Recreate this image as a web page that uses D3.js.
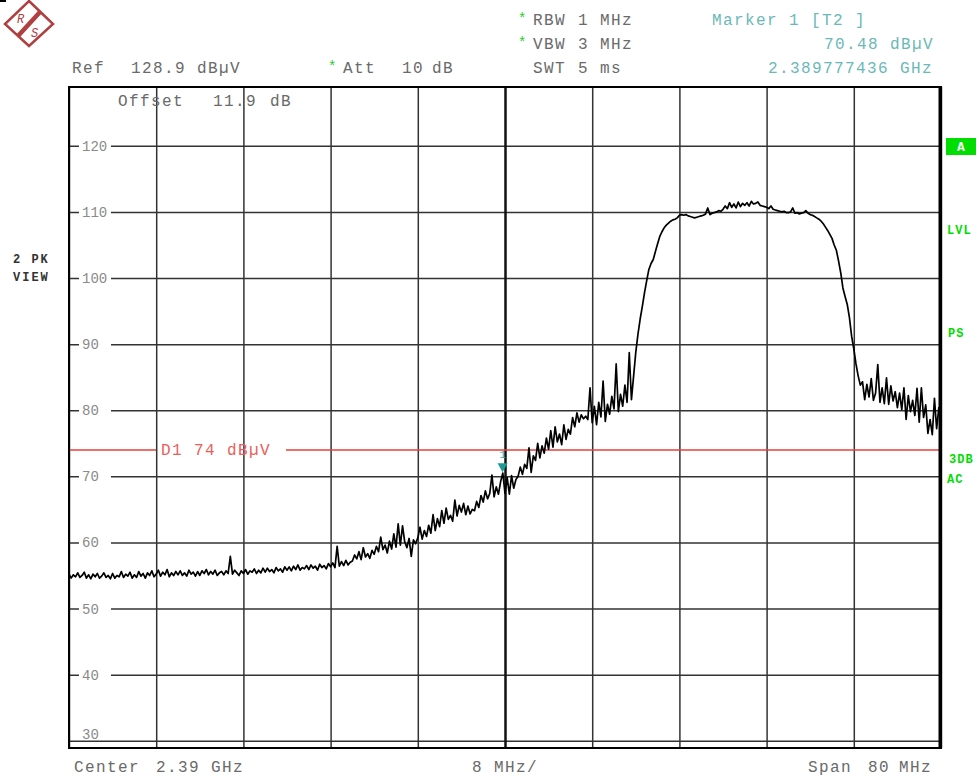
<!DOCTYPE html>
<html>
<head>
<meta charset="utf-8">
<script src="https://cdn.jsdelivr.net/npm/d3@7"></script>
<style>
  body { margin: 0; background: #fff; }
  text { font-family: "Liberation Mono", "DejaVu Sans Mono", monospace; }
</style>
</head>
<body>
<div id="main"></div>
<script>
const width = 979;
const height = 776;
const plot = { left: 69, right: 941, top: 87, bottom: 748 };

// analyzer settings
const refLevel = 128.9;
const bottomLevel = 28.9;
const startMHz = 2350;
const stopMHz = 2430;
const stepMHz = 0.2;
const gridMHz = [2350, 2358, 2366, 2374, 2382, 2390, 2398, 2406, 2414, 2422, 2430];
const levelTicks = [120, 110, 100, 90, 80, 70, 60, 50, 40, 30];
const displayLine = 74;
const markerMHz = 2389.777436;
const markerLevel = 70.48;

// trace 2 (peak), dBµV per sweep point
const levels = [
  55.2,54.6,55.1,54.8,55.4,54.7,55.0,55.5,54.6,55.1,
  54.5,55.2,54.8,55.3,54.6,54.9,55.4,54.7,55.0,54.5,
  55.3,54.6,55.0,54.8,55.6,54.7,55.2,54.9,55.5,54.6,
  55.1,54.7,55.6,54.9,55.3,54.6,55.4,55.0,55.7,54.8,
  55.2,55.8,54.9,55.5,55.1,55.9,54.8,55.4,55.0,55.6,
  55.1,55.7,55.0,55.4,54.9,55.8,55.2,55.5,54.9,55.6,
  55.0,55.7,55.3,55.9,55.1,55.6,55.2,55.8,55.0,55.4,
  55.6,55.1,55.7,55.3,57.9,55.2,55.8,55.4,55.0,55.7,
  55.3,55.9,55.2,55.7,55.5,56.0,55.3,55.8,55.4,56.1,
  55.5,56.1,55.6,55.9,55.4,56.2,55.7,56.0,55.5,56.3,
  55.8,56.3,55.7,56.4,55.9,56.6,55.8,56.2,56.0,56.5,
  55.9,56.6,56.1,56.4,55.8,56.7,56.2,56.5,56.0,56.8,
  56.3,56.9,56.2,59.4,56.4,57.1,56.5,57.3,56.6,57.0,
  57.2,58.1,57.5,58.6,57.4,59.2,57.8,58.3,57.6,58.8,
  58.2,59.4,58.6,60.8,58.9,59.6,58.4,60.2,59.0,61.3,
  59.3,62.8,59.6,62.5,60.1,59.2,60.6,57.9,60.4,59.8,
  60.7,62.3,60.5,61.8,60.9,62.6,61.4,64.2,61.8,63.6,
  62.4,64.8,62.9,65.2,63.5,64.1,63.2,66.4,64.0,65.6,
  64.6,65.9,64.2,65.5,64.3,65.0,64.8,66.2,65.3,67.1,
  66.1,67.8,66.6,67.4,70.2,66.9,68.4,67.3,69.2,70.5,
  67.4,69.8,67.3,70.1,68.2,69.5,70.0,71.4,70.3,71.8,
  71.2,74.3,70.6,73.1,72.4,75.0,72.8,74.6,73.5,75.8,
  74.1,76.9,74.4,77.5,75.2,76.4,74.8,77.8,75.6,77.1,
  76.4,78.9,77.5,79.6,78.2,79.3,78.7,79.1,78.6,83.4,
  78.1,80.6,77.8,81.2,79.0,84.4,78.3,80.9,79.4,82.1,
  80.2,87.0,79.8,82.4,80.6,83.8,81.2,88.7,81.6,85.2,
  88.8,91.5,93.8,95.7,97.8,99.6,101.3,102.2,102.8,104.0,
  105.2,106.3,107.0,107.6,108.0,108.3,108.6,108.8,108.9,109.1,
  109.5,109.6,109.5,109.6,109.4,109.3,109.2,109.1,109.2,109.3,
  109.4,109.5,109.7,110.6,109.6,109.8,109.9,110.0,110.2,110.1,
  110.4,110.9,110.5,111.4,110.7,111.2,110.6,111.5,110.8,111.3,
  111.0,111.4,110.9,111.6,111.2,111.3,111.5,111.0,110.9,110.8,
  110.7,110.5,110.9,110.4,110.3,110.2,110.1,110.0,110.1,109.9,
  109.9,110.0,110.6,109.8,109.9,109.7,109.8,109.9,110.2,109.8,
  109.6,109.5,109.3,109.1,108.9,108.6,108.2,107.7,107.2,106.6,
  106.0,105.0,104.2,102.6,100.8,98.5,97.2,96.0,94.0,91.2,
  89.3,87.0,85.2,83.8,84.3,81.6,83.9,82.0,84.8,81.5,
  82.6,86.9,81.2,83.4,81.0,84.9,80.9,83.7,81.4,82.8,
  80.4,82.6,80.1,83.4,78.6,82.2,79.8,81.5,79.2,83.3,
  78.2,83.4,78.9,80.8,76.5,78.6,76.3,81.8,77.2,80.4,
  77.8
];

const svg = d3.select('#main')
  .append('svg')
  .attr('width', width)
  .attr('height', height);

svg.append('rect').attr('width', width).attr('height', height).attr('fill', '#fff');

const x = d3.scaleLinear().domain([startMHz, stopMHz]).range([plot.left, plot.right]);
const y = d3.scaleLinear().domain([bottomLevel, refLevel]).range([plot.bottom, plot.top]);

const innerWidth = plot.right - plot.left;
const innerHeight = plot.bottom - plot.top;

// grid
const yGrid = svg.append('g')
  .attr('transform', `translate(${plot.left},0)`)
  .call(d3.axisLeft(y).tickValues(levelTicks).tickSize(-innerWidth).tickFormat(''));
yGrid.select('.domain').remove();
yGrid.selectAll('line').attr('stroke', '#333').attr('stroke-width', 1.5);

const xGrid = svg.append('g')
  .attr('transform', `translate(0,${plot.bottom})`)
  .call(d3.axisBottom(x).tickValues(gridMHz).tickSize(-innerHeight).tickFormat(''));
xGrid.select('.domain').remove();
xGrid.selectAll('line')
  .attr('stroke', d => d === 2390 ? '#111' : '#333')
  .attr('stroke-width', d => d === 2390 ? 2.5 : 1.5);

// level labels sitting in the grid lines
const yLabels = svg.append('g');
levelTicks.forEach(v => {
  const last = v === levelTicks[levelTicks.length - 1];
  if (!last) {
    yLabels.append('rect')
      .attr('x', 79).attr('y', y(v) - 7)
      .attr('width', 32).attr('height', 14)
      .attr('fill', '#fff');
  }
  yLabels.append('text')
    .attr('x', 82)
    .attr('y', last ? y(v) - 2 : y(v) + 5)
    .attr('font-size', 14)
    .attr('fill', '#8a8a8a')
    .text(v);
});

// display line D1
const redY = y(displayLine);
svg.append('line')
  .attr('x1', plot.left).attr('x2', 156).attr('y1', redY).attr('y2', redY)
  .attr('stroke', '#e8403c').attr('stroke-width', 1.5);
svg.append('line')
  .attr('x1', 286).attr('x2', plot.right).attr('y1', redY).attr('y2', redY)
  .attr('stroke', '#e8403c').attr('stroke-width', 1.5);
svg.append('text')
  .attr('x', 161).attr('y', redY + 5)
  .attr('font-size', 16).attr('letter-spacing', 1.4)
  .attr('fill', '#e8605c')
  .text('D1 74 dBµV');

// trace
const line = d3.line()
  .x((d, i) => x(startMHz + i * stepMHz))
  .y(d => y(d));

svg.append('path')
  .attr('d', line(levels))
  .attr('fill', 'none')
  .attr('stroke', '#000')
  .attr('stroke-width', 1.7)
  .attr('stroke-linejoin', 'round');

// marker 1
const mx = x(markerMHz);
const my = y(markerLevel);
svg.append('path')
  .attr('d', `M${mx - 5},${my - 10}L${mx + 5},${my - 10}L${mx},${my - 1}Z`)
  .attr('fill', '#1f9a9a');
svg.append('text')
  .attr('x', mx - 3).attr('y', my - 15)
  .attr('font-size', 11)
  .attr('fill', '#3aa6a6')
  .text('1');

// frame
svg.append('rect')
  .attr('x', plot.left).attr('y', plot.top)
  .attr('width', innerWidth).attr('height', innerHeight)
  .attr('fill', 'none').attr('stroke', '#000').attr('stroke-width', 2);
svg.append('line')
  .attr('x1', plot.right - 1).attr('x2', plot.right - 1)
  .attr('y1', plot.top).attr('y2', plot.bottom)
  .attr('stroke', '#000').attr('stroke-width', 3);

// header and footer texts
const label = (tx, ty, str, fill) => svg.append('text')
  .attr('x', tx).attr('y', ty)
  .attr('font-size', 16).attr('letter-spacing', 1.4)
  .attr('fill', fill || '#6a6a6a')
  .text(str);

const star = (tx, ty) => svg.append('text')
  .attr('x', tx).attr('y', ty)
  .attr('font-size', 14)
  .attr('fill', '#22cc22')
  .text('*');

star(518, 23); label(533, 25, 'RBW'); label(578, 25, '1'); label(600, 25, 'MHz');
star(518, 47); label(533, 49, 'VBW'); label(578, 49, '3'); label(600, 49, 'MHz');
label(533, 73, 'SWT'); label(578, 73, '5'); label(600, 73, 'ms');
label(712, 25, 'Marker 1 [T2 ]', '#6bb8b8');
label(824, 49, '70.48 dBµV', '#6bb8b8');
label(768, 73, '2.389777436 GHz', '#6bb8b8');

label(72, 73, 'Ref'); label(131, 73, '128.9'); label(197, 73, 'dBµV');
star(328, 71); label(343, 73, 'Att'); label(402, 73, '10'); label(432, 73, 'dB');
label(118, 106, 'Offset'); label(213, 106, '11.9'); label(270, 106, 'dB');

label(74, 772, 'Center'); label(156, 772, '2.39'); label(211, 772, 'GHz');
label(472, 772, '8 MHz/');
label(808, 772, 'Span'); label(868, 772, '80'); label(899, 772, 'MHz');

// left status
svg.append('text').attr('x', 13).attr('y', 263)
  .attr('font-size', 12).attr('font-weight', 'bold').attr('letter-spacing', 2)
  .attr('fill', '#333').text('2 PK');
svg.append('text').attr('x', 13).attr('y', 281)
  .attr('font-size', 12).attr('font-weight', 'bold').attr('letter-spacing', 2)
  .attr('fill', '#333').text('VIEW');

// right status
const green = '#00dd00';
svg.append('rect').attr('x', 946).attr('y', 138).attr('width', 30).attr('height', 17).attr('fill', green);
svg.append('text').attr('x', 961).attr('y', 151).attr('text-anchor', 'middle')
  .attr('font-size', 13).attr('font-weight', 'bold').attr('fill', '#fff').text('A');
[['LVL', 947, 234], ['PS', 948, 337], ['3DB', 949, 463], ['AC', 947, 483]].forEach(([t, tx, ty]) => {
  svg.append('text').attr('x', tx).attr('y', ty)
    .attr('font-size', 12).attr('font-weight', 'bold').attr('letter-spacing', 1)
    .attr('fill', green).text(t);
});

// R&S logo
const logoColor = '#b0403f';
svg.append('rect').attr('x', 0).attr('y', 0).attr('width', 6).attr('height', 2).attr('fill', '#000');
const logo = svg.append('g');
logo.append('path')
  .attr('d', 'M29,1L53,24L29,46L5,24Z')
  .attr('fill', 'none').attr('stroke', logoColor).attr('stroke-width', 2.5);
logo.append('line')
  .attr('x1', 40).attr('y1', 12).attr('x2', 18).attr('y2', 36)
  .attr('stroke', logoColor).attr('stroke-width', 4.5);
logo.append('text').attr('x', 17).attr('y', 23)
  .attr('font-family', 'DejaVu Sans').attr('font-size', 12).attr('font-style', 'italic')
  .attr('fill', logoColor).text('R');
logo.append('text').attr('x', 31).attr('y', 37)
  .attr('font-family', 'DejaVu Sans').attr('font-size', 12).attr('font-style', 'italic')
  .attr('fill', logoColor).text('S');
</script>
</body>
</html>
